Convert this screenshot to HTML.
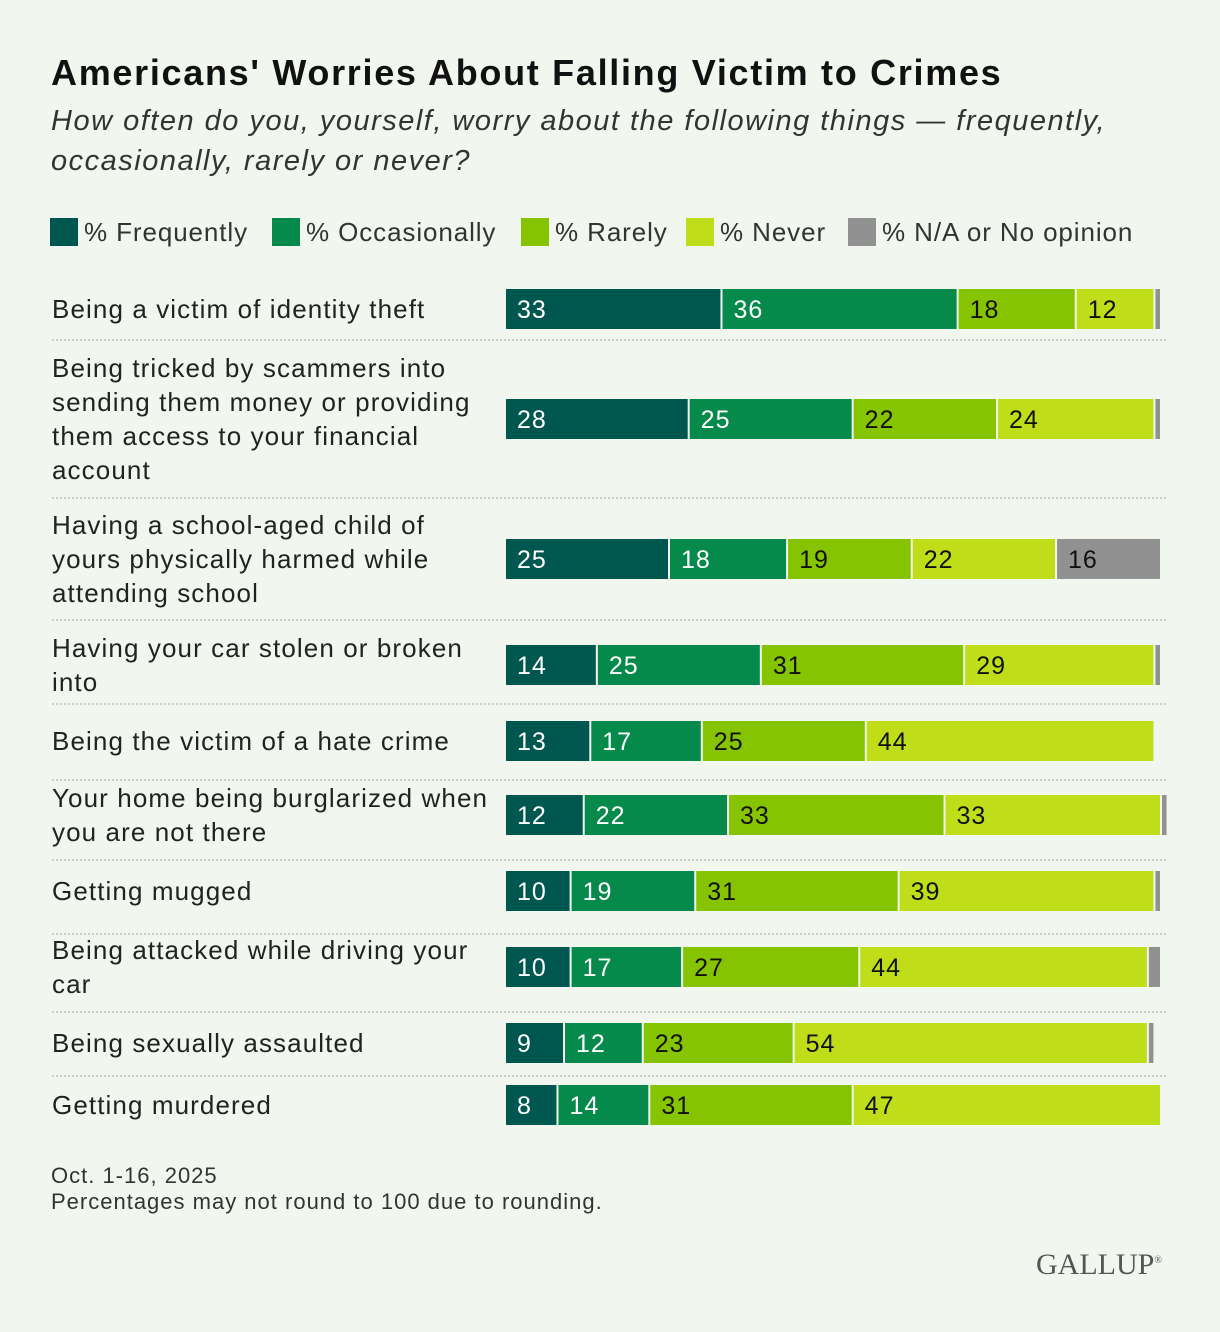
<!DOCTYPE html>
<html><head><meta charset="utf-8"><style>
body{margin:0;background:#f1f7ef;}
#page{position:relative;width:1220px;height:1332px;background:#f1f7ef;font-family:"Liberation Sans",sans-serif;color:#222;overflow:hidden}
.t{position:absolute;white-space:nowrap}
.lab{position:absolute;left:52px;font-size:26px;letter-spacing:1.1px;line-height:34px;color:#222;white-space:nowrap}
.leg{position:absolute;top:218px;height:28px;font-size:26px;letter-spacing:0.9px;line-height:28px;color:#333;white-space:nowrap}
.leg i{display:inline-block;width:28px;height:28px;vertical-align:top;margin-right:6px}
</style></head><body>
<div id="page">
<div class="t" style="left:51px;top:52px;font-size:36px;letter-spacing:1.7px;font-weight:bold;color:#111">Americans' Worries About Falling Victim to Crimes</div>
<div class="t" style="left:51px;top:101px;font-size:29px;letter-spacing:1.5px;font-style:italic;line-height:40px;color:#333">How often do you, yourself, worry about the following things — frequently,<br>occasionally, rarely or never?</div>
<div class="leg" style="left:50px"><i style="background:#00574f"></i>% Frequently</div>
<div class="leg" style="left:272px"><i style="background:#068a4c"></i>% Occasionally</div>
<div class="leg" style="left:521px"><i style="background:#86c300"></i>% Rarely</div>
<div class="leg" style="left:686px"><i style="background:#bfdd18"></i>% Never</div>
<div class="leg" style="left:848px"><i style="background:#919191"></i>% N/A or No opinion</div>
<svg id="bars" width="1220" height="1332" style="position:absolute;left:0;top:0"></svg>
<div id="labels"></div>
<div class="t" style="left:51px;top:1163px;font-size:22px;letter-spacing:1px;line-height:26px;color:#333">Oct. 1-16, 2025<br>Percentages may not round to 100 due to rounding.</div>
<div class="t" style="left:1036px;top:1248px;font-family:'Liberation Serif',serif;font-size:30px;color:#555">GALLUP<sup style="font-size:10px">®</sup></div>
</div>
<script>
const categories=["Being a victim of identity theft","Being tricked by scammers into<br>sending them money or providing<br>them access to your financial<br>account","Having a school-aged child of<br>yours physically harmed while<br>attending school","Having your car stolen or broken<br>into","Being the victim of a hate crime","Your home being burglarized when<br>you are not there","Getting mugged","Being attacked while driving your<br>car","Being sexually assaulted","Getting murdered"];
const frequently=[33,28,25,14,13,12,10,10,9,8];
const occasionally=[36,25,18,25,17,22,19,17,12,14];
const rarely=[18,22,19,31,25,33,31,27,23,31];
const never=[12,24,22,29,44,33,39,44,54,47];
const na=[1,1,16,1,0,1,1,2,1,0];
const centers=[309,419,559,665,741,815,891,967,1043,1105];
const seps=[340,498,620,704,780,860,934,1012,1076];
const colors=["#00574f","#068a4c","#86c300","#bfdd18","#919191"];
const txt=["#fff","#fff","#111","#111","#111"];
const x0=506,unit=6.56,bh=40;
const sx=v=>v*unit;
const svg=document.getElementById('bars');const NS="http://www.w3.org/2000/svg";
seps.forEach(y=>{const l=document.createElementNS(NS,'line');


l.setAttribute('x1',52);l.setAttribute('x2',1168);l.setAttribute('y1',y);l.setAttribute('y2',y);l.setAttribute('stroke','#c9cfc9');l.setAttribute('stroke-width','2');l.setAttribute('stroke-dasharray','2 2');svg.appendChild(l);});
const series=[frequently,occasionally,rarely,never,na];
const names=['frequently','occasionally','rarely','never','na'];
const labs=document.getElementById('labels');
categories.forEach((c,i)=>{
 const d=document.createElement('div');d.className='lab';
 
 
 d.innerHTML=c;const n=c.split('<br>').length;d.style.top=(centers[i]-n*17)+'px';labs.appendChild(d);
 let x=x0;
 series.forEach((s,k)=>{const v=s[i];if(!v)return;const w=sx(v);
  const r=document.createElementNS(NS,'rect');
  
  
  r.setAttribute('x',x);r.setAttribute('y',centers[i]-bh/2);r.setAttribute('width',Math.max(w-2,1));r.setAttribute('height',bh);r.setAttribute('fill',colors[k]);svg.appendChild(r);
  if(v>=5){const t=document.createElementNS(NS,'text');
   
   
   t.setAttribute('x',x+11);t.setAttribute('y',centers[i]+9);t.setAttribute('font-size','25');t.setAttribute('letter-spacing','1');t.setAttribute('font-family','Liberation Sans, sans-serif');t.setAttribute('fill',txt[k]);t.textContent=v;svg.appendChild(t);}
  x+=w;});
});
</script>
</body></html>
